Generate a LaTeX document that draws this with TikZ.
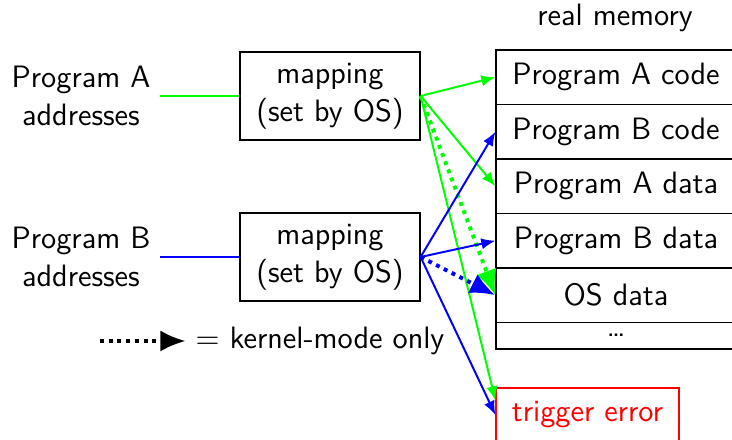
\documentclass[tikz,border=0pt]{standalone}
\usepackage{amssymb, amsmath}
\usetikzlibrary{arrows.meta}

\begin{document}
\begin{tikzpicture}[x=0.0125cm, y=-0.0125cm,
    every node/.style={font=\sffamily\fontsize{11pt}{13.5pt}\selectfont},
    membox/.style={draw, minimum width=3cm, minimum height=0.68cm, inner sep=0pt},
    mapbox/.style={draw, align=center, minimum width=2.25cm, minimum height=1.1cm},
    conn/.style={line width=0.7pt, -{Latex[length=5pt, width=4pt]}},
    kernel/.style={line width=1.4pt, dash pattern=on 1.4pt off 1.7pt, -{Latex[length=9pt, width=7.5pt]}}]
    \useasboundingbox (0, 0) rectangle (732, 440);

    % Define programs and mappings
    \node[align=center] (progA) at (81, 96) {Program A\\addresses};
    \node[align=center] (progB) at (81, 257) {Program B\\addresses};
    \node[mapbox] (mapA) at (330, 96) {mapping\\(set by OS)};
    \node[mapbox] (mapB) at (330, 257) {mapping\\(set by OS)};

    % Define real memory
    \node (real) at (615, 18) {real memory};
    \node[membox] (codeA) at (616, 77.25) {Program A code};
    \node[membox] (codeB) at (616, 131.75) {Program B code};
    \node[membox] (dataA) at (616, 186.25) {Program A data};
    \node[membox] (dataB) at (616, 240.75) {Program B data};
    \node[membox] (osdata) at (616, 295.25) {OS data};
    \node[membox, minimum height=0.33cm] (rest) at (616, 335.75) {\dots};
    \node[draw=red, text=red, minimum width=2.2875cm, minimum height=0.675cm] (trap) at (587.5, 415) {trigger error};

    % Legend
    \coordinate (legS) at (100, 341);
    \node (legend) at (320, 341) {$=$ kernel-mode only};
    \draw[kernel] (legS) -- (legend.west);

    % Draw edges
    \draw[green, line width=0.7pt] (progA.east) -- (mapA.west);
    \draw[blue, line width=0.7pt] (progB.east) -- (mapB.west);

    \draw[conn, green] (mapA.east) -- (codeA.west);
    \draw[conn, green] (mapA.east) -- (dataA.west);
    \draw[kernel, green] (mapA.east) -- (osdata.west);
    \draw[conn, green] (mapA.east) -- (trap.171);

    \draw[conn, blue] (mapB.east) -- (codeB.west);
    \draw[conn, blue] (mapB.east) -- (dataB.west);
    \draw[kernel, blue] (mapB.east) -- (osdata.west);
    \draw[conn, blue] (mapB.east) -- (trap.west);
\end{tikzpicture}
\end{document}
